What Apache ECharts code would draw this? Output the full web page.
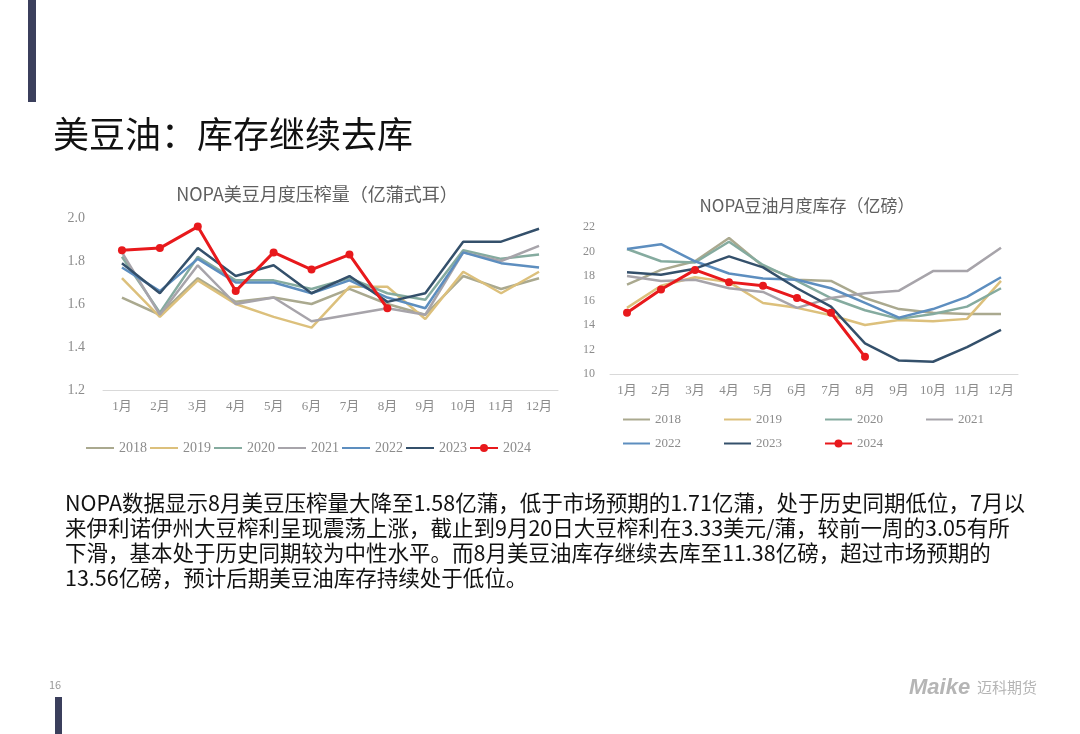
<!DOCTYPE html>
<html>
<head>
<meta charset="utf-8">
<script src="https://cdn.jsdelivr.net/npm/echarts@6/dist/echarts.min.js"></script>
<style>
html, body { margin: 0; padding: 0; background: #fff; }
#main { width: 1080px; height: 734px; }
</style>
</head>
<body>
<div id="main"></div>
<script>
// 月份与年份
var months = ['1月', '2月', '3月', '4月', '5月', '6月', '7月', '8月', '9月', '10月', '11月', '12月'];
var years = ['2018', '2019', '2020', '2021', '2022', '2023', '2024'];

// NOPA美豆月度压榨量（亿蒲式耳）
var crush2018 = [1.63, 1.55, 1.72, 1.61, 1.63, 1.60, 1.67, 1.60, 1.55, 1.73, 1.67, 1.72];
var crush2019 = [1.72, 1.54, 1.71, 1.60, 1.54, 1.49, 1.68, 1.68, 1.53, 1.75, 1.65, 1.75];
var crush2020 = [1.82, 1.56, 1.82, 1.71, 1.71, 1.67, 1.72, 1.65, 1.62, 1.85, 1.81, 1.83];
var crush2021 = [1.84, 1.55, 1.78, 1.60, 1.63, 1.52, 1.55, 1.58, 1.55, 1.84, 1.80, 1.87];
var crush2022 = [1.77, 1.66, 1.81, 1.70, 1.70, 1.65, 1.71, 1.63, 1.58, 1.84, 1.79, 1.77];
var crush2023 = [1.79, 1.65, 1.86, 1.73, 1.78, 1.65, 1.73, 1.61, 1.65, 1.89, 1.89, 1.95];
var crush2024 = [1.85, 1.86, 1.96, 1.66, 1.84, 1.76, 1.83, 1.58];

// NOPA豆油月度库存（亿磅）
var stock2018 = [17.3, 18.5, 19.2, 21.1, 18.8, 17.7, 17.6, 16.2, 15.3, 15.0, 14.9, 14.9];
var stock2019 = [15.4, 17.2, 17.9, 17.5, 15.8, 15.4, 14.8, 14.0, 14.4, 14.3, 14.5, 17.6];
var stock2020 = [20.2, 19.2, 19.1, 20.8, 18.9, 17.6, 16.2, 15.2, 14.5, 14.9, 15.5, 17.0];
var stock2021 = [18.0, 17.6, 17.7, 17.0, 16.7, 15.4, 16.2, 16.6, 16.8, 18.4, 18.4, 20.3];
var stock2022 = [20.2, 20.6, 19.2, 18.2, 17.8, 17.7, 17.0, 15.8, 14.6, 15.3, 16.3, 17.9];
var stock2023 = [18.3, 18.1, 18.6, 19.6, 18.7, 17.0, 15.5, 12.5, 11.1, 11.0, 12.2, 13.6];
var stock2024 = [15.0, 16.9, 18.5, 17.5, 17.2, 16.2, 15.0, 11.4];

var crushData = [crush2018, crush2019, crush2020, crush2021, crush2022, crush2023, crush2024];
var stockData = [stock2018, stock2019, stock2020, stock2021, stock2022, stock2023, stock2024];

// 正文
var bodyLines = [
    'NOPA数据显示8月美豆压榨量大降至1.58亿蒲，低于市场预期的1.71亿蒲，处于历史同期低位，7月以',
    '来伊利诺伊州大豆榨利呈现震荡上涨，截止到9月20日大豆榨利在3.33美元/蒲，较前一周的3.05有所',
    '下滑，基本处于历史同期较为中性水平。而8月美豆油库存继续去库至11.38亿磅，超过市场预期的',
    '13.56亿磅，预计后期美豆油库存持续处于低位。'
];

var colors = ['#aaa98f', '#dcc07c', '#85ab9f', '#a7a4aa', '#5d8ebf', '#34506b', '#e8191c'];
var cjk = '"Noto Sans CJK SC", "Noto Sans", sans-serif';
var serif = '"Liberation Serif", "Noto Sans CJK SC", serif';
var axisGray = '#8c8c8c';

function buildSeries(dataList, axisIndex) {
    return dataList.map(function(d, i) {
        var isNow = i === dataList.length - 1;
        return {
            name: years[i],
            type: 'line',
            xAxisIndex: axisIndex,
            yAxisIndex: axisIndex,
            data: d,
            symbol: isNow ? 'circle' : 'none',
            symbolSize: 8,
            z: isNow ? 10 : 2 + i,
            lineStyle: { color: colors[i], width: isNow ? 3 : 2.5 },
            itemStyle: { color: colors[i] },
            emphasis: { disabled: true },
            animation: false
        };
    });
}

// 图例: 往年只画线, 2024 带圆点
function legendItems(names) {
    return names.map(function(n) {
        if (n === '2024') return { name: n };
        return { name: n, itemStyle: { opacity: 0 } };
    });
}

function catAxis(gridIndex) {
    return {
        type: 'category',
        gridIndex: gridIndex,
        data: months,
        boundaryGap: true,
        axisLine: { lineStyle: { color: '#d9d9d9', width: 1 } },
        axisTick: { show: false },
        axisLabel: { color: axisGray, fontSize: 13, fontFamily: serif, margin: 10, interval: 0 }
    };
}

var chart = echarts.init(document.getElementById('main'));

var option = {
    backgroundColor: '#fff',
    color: colors,
    title: [{
        text: 'NOPA美豆月度压榨量（亿蒲式耳）',
        left: 312, top: 180, textAlign: 'center',
        textStyle: { fontSize: 18, fontWeight: 'normal', color: '#5f5f5f', fontFamily: cjk }
    }, {
        text: 'NOPA豆油月度库存（亿磅）',
        left: 802, top: 192, textAlign: 'center',
        textStyle: { fontSize: 17, fontWeight: 'normal', color: '#5f5f5f', fontFamily: cjk }
    }],
    grid: [
        { left: 103, width: 455, top: 218, height: 172 },
        { left: 610, width: 408, top: 227, height: 147 }
    ],
    xAxis: [catAxis(0), catAxis(1)],
    yAxis: [{
        type: 'value',
        gridIndex: 0,
        min: 1.2, max: 2.0, interval: 0.2,
        axisLine: { show: false },
        axisTick: { show: false },
        splitLine: { show: false },
        axisLabel: {
            color: axisGray, fontSize: 14, fontFamily: serif, margin: 18,
            formatter: function(v) { return v.toFixed(1); }
        }
    }, {
        type: 'value',
        gridIndex: 1,
        min: 10, max: 22, interval: 2,
        axisLine: { show: false },
        axisTick: { show: false },
        splitLine: { show: false },
        axisLabel: { color: axisGray, fontSize: 12, fontFamily: serif, margin: 15 }
    }],
    legend: [{
        data: legendItems(years),
        left: 85, top: 441, padding: 0,
        itemWidth: 28, itemHeight: 10, itemGap: 2,
        textStyle: { color: axisGray, fontSize: 14, fontFamily: serif }
    }, {
        data: legendItems(years.slice(0, 4)),
        left: 622, top: 413, padding: 0,
        itemWidth: 27, itemHeight: 10, itemGap: 42,
        textStyle: { color: axisGray, fontSize: 13, fontFamily: serif }
    }, {
        data: legendItems(years.slice(4)),
        left: 622, top: 437, padding: 0,
        itemWidth: 27, itemHeight: 10, itemGap: 42,
        textStyle: { color: axisGray, fontSize: 13, fontFamily: serif }
    }],
    graphic: [
        { type: 'rect', shape: { x: 28, y: 0, width: 8, height: 102 }, style: { fill: '#3b3f5c' } },
        { type: 'rect', shape: { x: 55, y: 697, width: 7, height: 37 }, style: { fill: '#3b3f5c' } },
        {
            type: 'text', left: 53, top: 116,
            style: { text: '美豆油：库存继续去库', fontSize: 36, fill: '#111', fontFamily: cjk }
        },
        {
            type: 'text', left: 65, top: 490,
            style: { text: bodyLines.join('\n'), fontSize: 21.5, lineHeight: 25, fill: '#111', fontFamily: cjk }
        },
        {
            type: 'text', left: 49, top: 679,
            style: { text: '16', fontSize: 11, fill: '#9a9a9a', fontFamily: cjk }
        },
        {
            type: 'text', left: 909, top: 677,
            style: { text: 'Maike', fontSize: 22, fontWeight: 'bold', fontStyle: 'italic', fill: '#b5b5b5', fontFamily: '"Liberation Sans", Arial, sans-serif' }
        },
        {
            type: 'text', left: 977, top: 680,
            style: { text: '迈科期货', fontSize: 15, fill: '#b5b5b5', fontFamily: cjk }
        }
    ],
    series: buildSeries(crushData, 0).concat(buildSeries(stockData, 1))
};

chart.setOption(option);

window.addEventListener('resize', function() {
    chart.resize();
});
</script>
</body>
</html>
